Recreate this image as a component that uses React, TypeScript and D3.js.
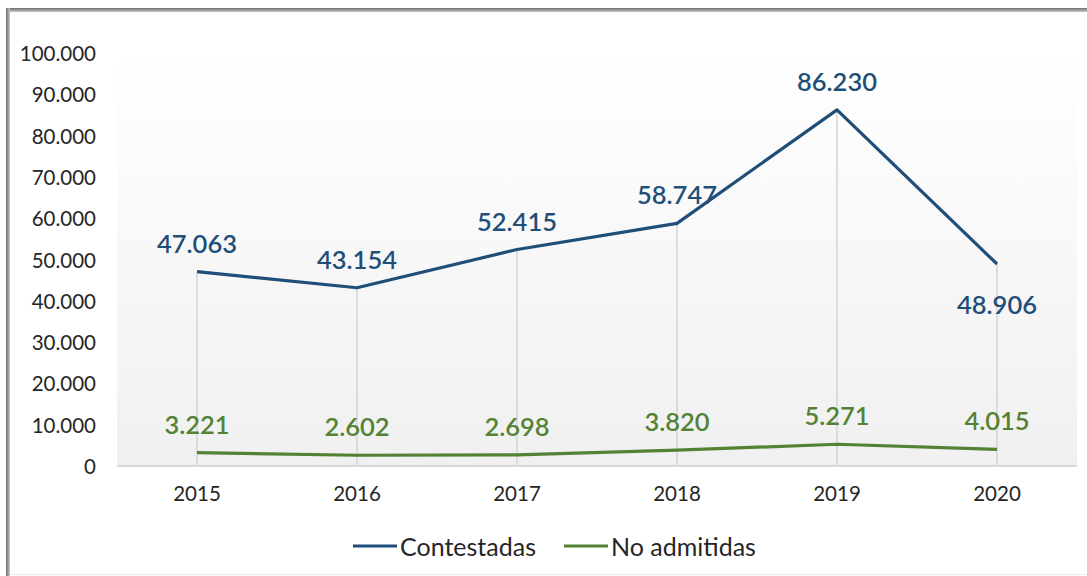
import React from "react";
import * as d3 from "d3";

const years = ["2015", "2016", "2017", "2018", "2019", "2020"];
const contestadas = [47063, 43154, 52415, 58747, 86230, 48906];
const noAdmitidas = [3221, 2602, 2698, 3820, 5271, 4015];
const yTicks = [0, 10000, 20000, 30000, 40000, 50000, 60000, 70000, 80000, 90000, 100000];
const seriesNames = ["Contestadas", "No admitidas"];
const seriesColors = ["#1f4e79", "#548235"];

const W = 1087;
const H = 576;
const plot = { left: 117, right: 1077, top: 53, bottom: 466 };

const fmt = (v: number) => {
  const s = Math.round(v).toString();
  return s.replace(/\B(?=(\d{3})+(?!\d))/g, ".");
};

export default function App() {
  const x = d3.scaleBand<string>().domain(years).range([plot.left, plot.right]);
  const cx = (y: string) => (x(y) as number) + x.bandwidth() / 2;
  const y = d3.scaleLinear().domain([0, 100000]).range([plot.bottom, plot.top]);
  const line = d3
    .line<number>()
    .x((_, i) => cx(years[i]))
    .y((d) => y(d));
  const font = "Lato, 'Open Sans', sans-serif";
  const series = [contestadas, noAdmitidas];

  return (
    <svg
      width={W}
      height={H}
      style={{ position: "absolute", left: 0, top: 0, background: "#fff" }}
      fontFamily={font}
    >
      <defs>
        <linearGradient id="bg" x1="0" y1="0" x2="0" y2="1">
          <stop offset="0" stopColor="#ffffff" />
          <stop offset="1" stopColor="#f0f0f0" />
        </linearGradient>
        <linearGradient id="fl" x1="0" y1="0" x2="1" y2="0">
          <stop offset="0" stopColor="#6e6e6e" />
          <stop offset="1" stopColor="#c8c8c8" />
        </linearGradient>
        <linearGradient id="ft" x1="0" y1="0" x2="0" y2="1">
          <stop offset="0" stopColor="#6e6e6e" />
          <stop offset="1" stopColor="#c8c8c8" />
        </linearGradient>
      </defs>
      <rect x={0} y={0} width={W} height={H} fill="#fff" />
      {/* frame */}
      <rect x={6} y={8} width={W} height={4} fill="url(#ft)" />
      <rect x={6} y={8} width={4} height={H} fill="url(#fl)" />
      <line x1={10} x2={W} y1={574.5} y2={574.5} stroke="#ececec" strokeWidth={1} />
      <rect x={plot.left} y={plot.top} width={plot.right - plot.left} height={plot.bottom - plot.top} fill="url(#bg)" />
      {/* drop lines */}
      {years.map((yr, i) => (
        <line
          key={"d" + yr}
          x1={cx(yr)}
          x2={cx(yr)}
          y1={y(Math.max(contestadas[i], noAdmitidas[i]))}
          y2={plot.bottom}
          stroke="#d4d4d4"
          strokeWidth={1.5}
        />
      ))}
      {/* x axis line */}
      <line x1={plot.left} x2={plot.right} y1={plot.bottom} y2={plot.bottom} stroke="#d9d9d9" strokeWidth={2} />
      {/* y tick labels */}
      {yTicks.map((t) => (
        <text key={"yt" + t} x={96} y={y(t)} textAnchor="end" dominantBaseline="central" fontSize={20.5} fill="#262626">
          {fmt(t)}
        </text>
      ))}
      {/* x tick labels */}
      {years.map((yr) => (
        <text key={"xt" + yr} x={cx(yr)} y={493} textAnchor="middle" dominantBaseline="central" fontSize={20.5} fill="#262626">
          {yr}
        </text>
      ))}
      {/* lines */}
      {series.map((s, k) => (
        <path key={"l" + k} d={line(s) || ""} fill="none" stroke={seriesColors[k]} strokeWidth={3.2} strokeLinejoin="round" />
      ))}
      {/* labels */}
      {series.map((s, k) =>
        s.map((v, i) => {
          const below = k === 0 && i === years.length - 1;
          return (
            <text
              key={"lab" + k + i}
              x={cx(years[i])}
              y={y(v) + (below ? 40 : -29)}
              textAnchor="middle"
              dominantBaseline="central"
              fontSize={25.5}
              fontWeight={600}
              fill={seriesColors[k]}
            >
              {fmt(v)}
            </text>
          );
        })
      )}
      {/* legend */}
      {seriesNames.map((n, k) => {
        const lx = k === 0 ? 353 : 564;
        return (
          <g key={"lg" + k}>
            <line x1={lx} x2={lx + 44} y1={546} y2={546} stroke={seriesColors[k]} strokeWidth={3.2} />
            <text x={lx + 47} y={546} dominantBaseline="central" fontSize={25} fill="#262626">
              {n}
            </text>
          </g>
        );
      })}
    </svg>
  );
}
